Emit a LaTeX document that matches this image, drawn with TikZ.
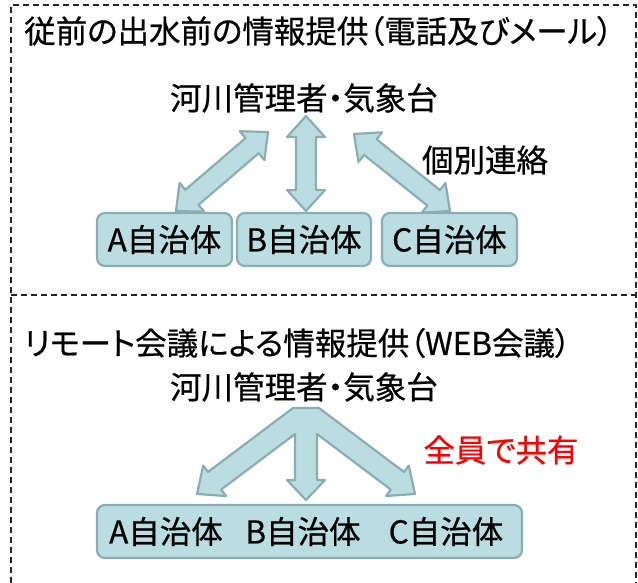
\documentclass[tikz,border=0pt]{standalone}
\usepackage{fontspec}
\newfontfamily\jp[RawFeature=+palt, FakeBold=0.6]{Noto Sans CJK JP}
\usetikzlibrary{calc}
\definecolor{afill}{RGB}{185,221,225}
\definecolor{aline}{RGB}{138,174,177}
\definecolor{redtxt}{RGB}{255,0,0}
\newcommand{\fatdouble}[2]{%
  \path (#1) coordinate (p) (#2) coordinate (q)
    ($(p)!21pt!(q)$) coordinate (pb)
    ($(q)!21pt!(p)$) coordinate (qb);
  \filldraw[blk] (p) -- ($(pb)!19pt!90:(q)$) -- ($(pb)!10pt!90:(q)$)
    -- ($(qb)!10pt!-90:(p)$) -- ($(qb)!19pt!-90:(p)$) -- (q)
    -- ($(qb)!19pt!90:(p)$) -- ($(qb)!10pt!90:(p)$)
    -- ($(pb)!10pt!-90:(q)$) -- ($(pb)!19pt!-90:(q)$) -- cycle;}
\begin{document}
\begin{tikzpicture}[x=1pt,y=-1pt,
  txt/.style={font=\jp\fontsize{31.5}{36}\selectfont, inner sep=0pt},
  blk/.style={fill=afill, draw=aline, line width=2.2pt, line join=round},
  box/.style={blk, rounded corners=8pt, minimum height=53pt},
  frame/.style={draw=black!85, line width=1.1pt, dash pattern=on 6pt off 4pt}]
\useasboundingbox (0,0) rectangle (638,583);
% frame
\draw[frame] (11,583) -- (11,5) -- (636,5) -- (636,583);
\draw[frame] (11,295) -- (636,295);
% top section
\node[txt, anchor=west] (t1) at (24,31) {従前の出水前の情報提供（電話及びメール）};
\node[txt] (src1) at (304,98) {河川管理者・気象台};
\node[txt] (lbl1) at (485,160) {個別連絡};
\coordinate (la1) at (176,211); \coordinate (la2) at (268,132);
\coordinate (ma1) at (306,211); \coordinate (ma2) at (306,116);
\coordinate (ra1) at (450,211); \coordinate (ra2) at (354,134);
\fatdouble{la1}{la2}
\fatdouble{ma1}{ma2}
\fatdouble{ra1}{ra2}
\node[box, txt, minimum width=135pt] (A) at (164.5,239.5) {A自治体};
\node[box, txt, minimum width=134pt] (B) at (304,239.5) {B自治体};
\node[box, txt, minimum width=135pt] (C) at (449.5,239.5) {C自治体};
% bottom section
\node[txt, anchor=west] (t2) at (24,343) {リモート会議による情報提供（WEB会議）};
\node[txt] (src2) at (304,387) {河川管理者・気象台};
\node[txt, text=redtxt] (lbl2) at (501,450) {全員で共有};
\filldraw[blk] (293,408) -- (319,408) -- (404,472) -- (408.8,465.6) -- (415,494)
  -- (386,496) -- (390.8,489.6) -- (317,434) -- (317,480) -- (325,480) -- (306,500)
  -- (287,480) -- (295,480) -- (295,434) -- (221.2,489.6) -- (226,496) -- (197,494)
  -- (203.2,465.6) -- (208,472) -- cycle;
\node[box, minimum width=425pt] (D) at (309.5,531.5) {};
\node[txt] (Da) at (166,531.5) {A自治体};
\node[txt] (Db) at (303,531.5) {B自治体};
\node[txt] (Dc) at (446,531.5) {C自治体};
\end{tikzpicture}
\end{document}
